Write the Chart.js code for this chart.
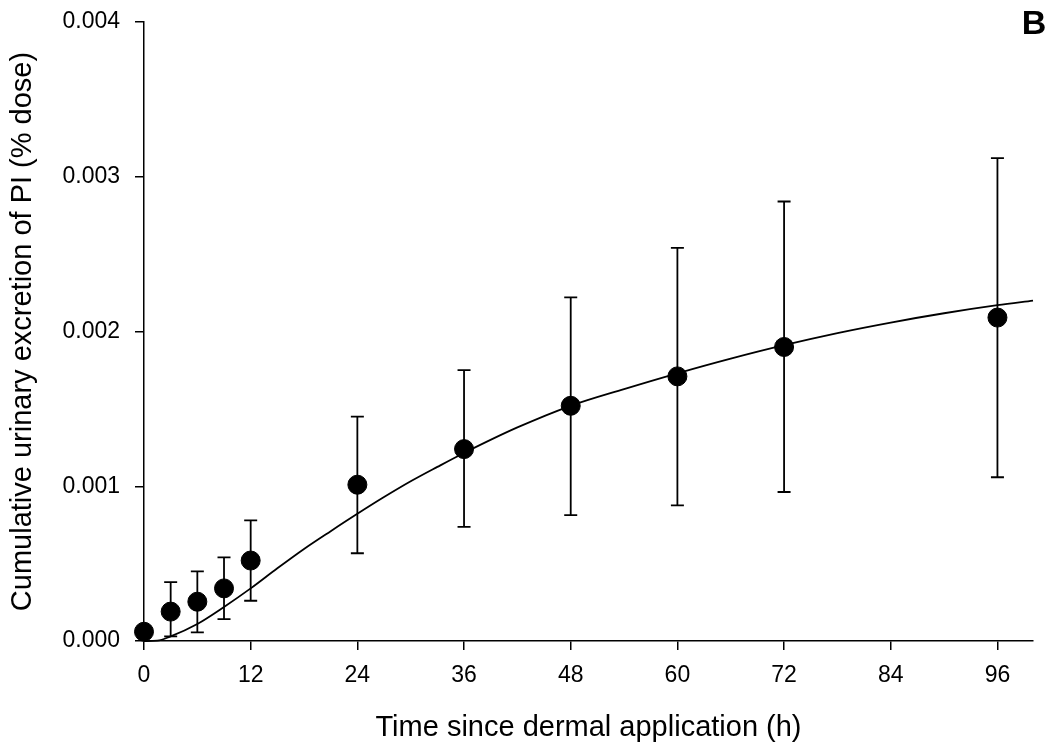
<!DOCTYPE html>
<html>
<head>
<meta charset="utf-8">
<script src="https://cdn.jsdelivr.net/npm/chart.js@4/dist/chart.umd.min.js"></script>
<style>
  html, body { margin: 0; padding: 0; background: #fff; }
  #wrap { width: 1053px; height: 748px; position: relative; }
</style>
</head>
<body>
<div id="wrap"><canvas id="chart" width="1053" height="748"></canvas></div>
<script>
// measured points (mean, error bar ends)
const TIMES = [0, 3, 6, 9, 12, 24, 36, 48, 60, 72, 96];
const MEANS = [0.00006, 0.00019, 0.000254, 0.00034, 0.00052, 0.00101, 0.00124, 0.00152, 0.00171, 0.0019, 0.00209];
const UPPER = [null, 0.00038, 0.00045, 0.00054, 0.00078, 0.00145, 0.00175, 0.00222, 0.00254, 0.00284, 0.00312];
const LOWER = [null, 0.00003, 0.000056, 0.000142, 0.00026, 0.000567, 0.000737, 0.000814, 0.000877, 0.000963, 0.001058];

// fitted curve
const FIT_X = [0, 1.5, 3, 6, 9, 12, 15, 18, 21, 24, 27, 30, 33, 36, 42, 48, 54, 60, 66, 72, 78, 84, 90, 96, 100];
const FIT_Y = [0, 0.000002, 0.00003, 0.00011, 0.00022, 0.00034, 0.00047, 0.000595, 0.00071, 0.000822, 0.00093, 0.001032, 0.001125, 0.001215, 0.00138, 0.00152, 0.001628, 0.00173, 0.001825, 0.001912, 0.00199, 0.002058, 0.002118, 0.00217, 0.0022];

const X_TICKS = [0, 12, 24, 36, 48, 60, 72, 84, 96];
const Y_TICKS = [0, 0.001, 0.002, 0.003, 0.004];

const FONT = '"Liberation Sans", Arial, Helvetica, sans-serif';

const errorBars = {
  id: 'errorBars',
  beforeDatasetsDraw(chart) {
    const { ctx, scales: { x, y } } = chart;
    ctx.save();
    ctx.strokeStyle = '#000';
    ctx.lineWidth = 1.8;
    TIMES.forEach((t, i) => {
      if (UPPER[i] == null) return;
      const px = x.getPixelForValue(t);
      const top = y.getPixelForValue(UPPER[i]);
      const bot = y.getPixelForValue(LOWER[i]);
      ctx.beginPath();
      ctx.moveTo(px, top); ctx.lineTo(px, bot);
      ctx.moveTo(px - 6.5, top); ctx.lineTo(px + 6.5, top);
      ctx.moveTo(px - 6.5, bot); ctx.lineTo(px + 6.5, bot);
      ctx.stroke();
    });
    ctx.restore();
  },
};

const panelLabel = {
  id: 'panelLabel',
  afterDraw(chart) {
    const { ctx } = chart;
    ctx.save();
    ctx.fillStyle = '#000';
    ctx.font = `bold 34px ${FONT}`;
    ctx.textAlign = 'center';
    ctx.textBaseline = 'middle';
    ctx.fillText('B', 1034, 25);
    ctx.restore();
  },
};

new Chart(document.getElementById('chart'), {
  type: 'scatter',
  data: {
    datasets: [
      {
        label: 'mean',
        data: TIMES.map((t, i) => ({ x: t, y: MEANS[i] })),
        backgroundColor: '#000',
        borderColor: '#000',
        pointRadius: 9.5,
        pointHoverRadius: 9.5,
        clip: false,
        order: 0,
      },
      {
        label: 'fit',
        type: 'line',
        data: FIT_X.map((t, i) => ({ x: t, y: FIT_Y[i] })),
        borderColor: '#000',
        borderWidth: 1.8,
        pointRadius: 0,
        fill: false,
        cubicInterpolationMode: 'monotone',
        clip: false,
        order: 1,
      },
    ],
  },
  options: {
    responsive: false,
    animation: false,
    events: [],
    layout: { padding: { top: 22, right: 20, bottom: 0, left: 0 } },
    plugins: { legend: { display: false }, tooltip: { enabled: false } },
    scales: {
      x: {
        type: 'linear',
        min: 0,
        max: 100,
        afterBuildTicks: (s) => { s.ticks = X_TICKS.map((v) => ({ value: v })); },
        afterFit: (s) => { s.height = 107; s.paddingLeft = 0; s.paddingRight = 0; },
        grid: { display: true, drawOnChartArea: false, drawTicks: true, tickLength: 9, color: '#000', lineWidth: 1.5 },
        border: { display: true, color: '#000', width: 1.5 },
        ticks: { color: '#000', font: { family: FONT, size: 23 }, padding: 12, maxRotation: 0, autoSkip: false },
        title: {
          display: true,
          text: 'Time since dermal application (h)',
          color: '#000',
          font: { family: FONT, size: 29 },
          padding: { top: 0, bottom: 3 },
        },
      },
      y: {
        min: 0,
        max: 0.004,
        afterBuildTicks: (s) => { s.ticks = Y_TICKS.map((v) => ({ value: v })); },
        afterFit: (s) => { s.width = 144; s.paddingTop = 0; s.paddingBottom = 0; },
        grid: { display: true, drawOnChartArea: false, drawTicks: true, tickLength: 9, color: '#000', lineWidth: 1.5 },
        border: { display: true, color: '#000', width: 1.5 },
        ticks: {
          color: '#000',
          font: { family: FONT, size: 23 },
          padding: 15,
          callback: (v) => v.toFixed(3),
        },
        title: {
          display: true,
          text: 'Cumulative urinary excretion of PI (% dose)',
          color: '#000',
          font: { family: FONT, size: 29 },
          padding: { top: 6, bottom: 0 },
        },
      },
    },
  },
  plugins: [errorBars, panelLabel],
});
</script>
</body>
</html>
